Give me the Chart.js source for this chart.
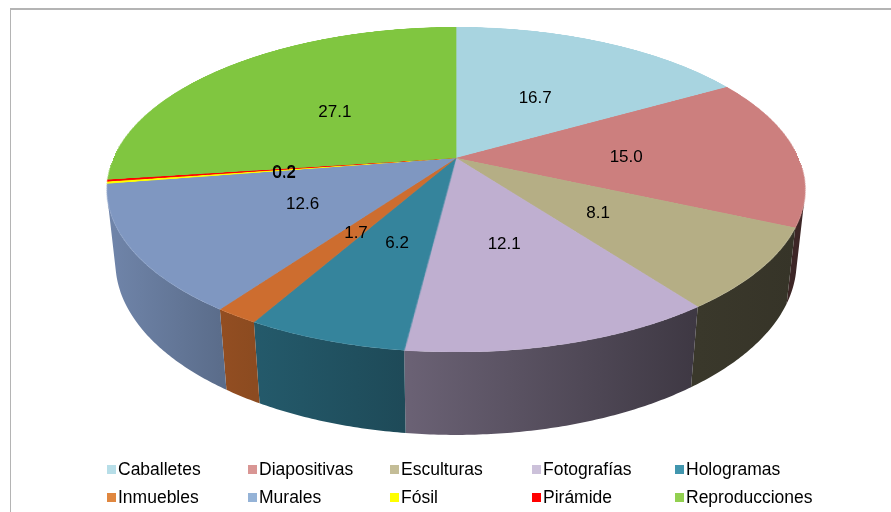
<!DOCTYPE html>
<html>
<head>
<meta charset="utf-8">
<script src="https://cdn.jsdelivr.net/npm/chart.js@4.4.1/dist/chart.umd.min.js"></script>
<style>
  html, body { margin: 0; padding: 0; background: #fff; overflow: hidden; }
  #chart { display: block; }
</style>
</head>
<body>
<canvas id="chart" width="891" height="512"></canvas>
<script>
const categories = ['Caballetes', 'Diapositivas', 'Esculturas', 'Fotografías', 'Hologramas',
  'Inmuebles', 'Murales', 'Fósil', 'Pirámide', 'Reproducciones'];
const values = [16.7, 15.0, 8.1, 12.1, 6.2, 1.7, 12.6, 0.2, 0.2, 27.1];
const valueLabels = values.map(v => v.toFixed(1));

// colours of the lit top face and of the legend keys
const topColors = ['#A8D4E0', '#CC7F7E', '#B5AE85', '#BFAFD0', '#35849C',
  '#CD6D2F', '#7F97C1', '#FFFF00', '#FF0000', '#80C640'];
const legendColors = ['#B7DEE8', '#D99694', '#C4BD97', '#CCC1DA', '#4196AE',
  '#E0873F', '#95B3D7', '#FFFF00', '#FF0000', '#92D050'];

// perspective camera for the 3D look (disc radius = 1)
const view = { cx: 456, cy: 158, F: 1570, L: 4.585, sin: 0.4568, cos: 0.8896, h: 0.241 };

function project(a, r, y) {
  const u = r * Math.cos(a), v = r * Math.sin(a);
  const d = view.L - y * view.sin - v * view.cos;
  return { x: view.cx + view.F * u / d, y: view.cy - view.F * (y * view.cos - v * view.sin) / d };
}

function shade(hex, f) {
  const n = parseInt(hex.slice(1), 16);
  const c = [(n >> 16) & 255, (n >> 8) & 255, n & 255].map(x => Math.round(x * f));
  return `rgb(${c[0]},${c[1]},${c[2]})`;
}

function wallFactor(a) {
  const deg = a * 180 / Math.PI;
  return Math.min(0.88, Math.max(0.3, 0.32 + (deg - 53) * 0.0055));
}

function drawWalls(ctx, arcs) {
  const lim = Math.asin(1 / (view.L * view.cos));
  arcs.forEach((arc, i) => {
    const s = Math.max(arc.startAngle, lim);
    const e = Math.min(arc.endAngle, Math.PI - lim);
    if (e <= s) return;
    const steps = Math.max(2, Math.ceil((e - s) / 0.01));
    ctx.beginPath();
    for (let k = 0; k <= steps; k++) {
      const p = project(s + (e - s) * k / steps, 1, 0);
      k === 0 ? ctx.moveTo(p.x, p.y) : ctx.lineTo(p.x, p.y);
    }
    for (let k = steps; k >= 0; k--) {
      const p = project(s + (e - s) * k / steps, 1, -view.h);
      ctx.lineTo(p.x, p.y);
    }
    ctx.closePath();
    const p1 = project(s, 1, 0), p2 = project(e, 1, 0);
    const g = ctx.createLinearGradient(p1.x, 0, p2.x, 0);
    g.addColorStop(0, shade(topColors[i], wallFactor(s)));
    g.addColorStop(1, shade(topColors[i], wallFactor(e)));
    ctx.fillStyle = g;
    ctx.fill();
  });
}

const pie3d = {
  id: 'pie3d',
  beforeDraw(chart) {
    const ctx = chart.ctx;
    ctx.save();
    ctx.fillStyle = '#fff';
    ctx.fillRect(0, 0, chart.width, chart.height);
    ctx.fillStyle = '#b4b4b4';
    ctx.fillRect(10, 8, chart.width - 10, 2);
    ctx.fillRect(10, 8, 1, chart.height - 8);
    ctx.restore();
  },
  beforeDatasetsDraw(chart) {
    const arcs = chart.getDatasetMeta(0).data;
    const ctx = chart.ctx;
    // flat pie drawn by the library's own arcs, then laid down in perspective
    const r0 = 380;
    const off = document.createElement('canvas');
    off.width = off.height = 2 * r0;
    const octx = off.getContext('2d');
    const s = r0 / arcs[0].outerRadius;
    octx.translate(r0, r0);
    octx.scale(s, s);
    octx.translate(-arcs[0].x, -arcs[0].y);
    arcs.forEach(a => a.draw(octx));

    ctx.save();
    drawWalls(ctx, arcs);
    const yTop = Math.floor(project(-Math.PI / 2, 1, 0).y) - 1;
    const yBot = Math.ceil(project(Math.PI / 2, 1, 0).y) + 1;
    for (let Y = yTop; Y <= yBot; Y++) {
      const t = Y + 0.5 - view.cy;
      const v = t * view.L / (view.F * view.sin + t * view.cos);
      if (v < -1 || v > 1) continue;
      const sx = view.F / (view.L - v * view.cos);
      const sy = Math.min(2 * r0 - 1, Math.max(0, r0 + v * r0 - 0.5));
      ctx.drawImage(off, 0, sy, 2 * r0, 1, view.cx - sx, Y, 2 * sx, 1);
    }
    ctx.restore();
    return false;
  },
  afterDraw(chart) {
    const arcs = chart.getDatasetMeta(0).data;
    const ctx = chart.ctx;
    ctx.save();
    ctx.fillStyle = '#000';
    ctx.textAlign = 'center';
    ctx.textBaseline = 'middle';
    ctx.font = '17px "Liberation Sans", Arial, sans-serif';
    arcs.forEach((arc, i) => {
      const p = project((arc.startAngle + arc.endAngle) / 2, 0.5, 0);
      ctx.fillText(valueLabels[i], p.x, p.y + 3);
    });

    // legend, two rows of five
    const cols = [107, 248, 390, 532, 675];
    const rows = [470, 498];
    ctx.textAlign = 'left';
    ctx.font = '17.5px "Liberation Sans", Arial, sans-serif';
    categories.forEach((name, i) => {
      const x = cols[i % 5], y = rows[Math.floor(i / 5)];
      ctx.fillStyle = legendColors[i];
      ctx.fillRect(x, y - 5, 9, 9);
      ctx.fillStyle = '#000';
      ctx.fillText(name, x + 11, y);
    });
    ctx.restore();
  }
};

new Chart(document.getElementById('chart'), {
  type: 'pie',
  data: {
    labels: categories,
    datasets: [{
      data: values,
      backgroundColor: topColors,
      borderColor: topColors,
      borderWidth: 0.5
    }]
  },
  options: {
    responsive: false,
    animation: false,
    events: [],
    plugins: {
      legend: { display: false },
      tooltip: { enabled: false }
    }
  },
  plugins: [pie3d]
});
</script>
</body>
</html>
